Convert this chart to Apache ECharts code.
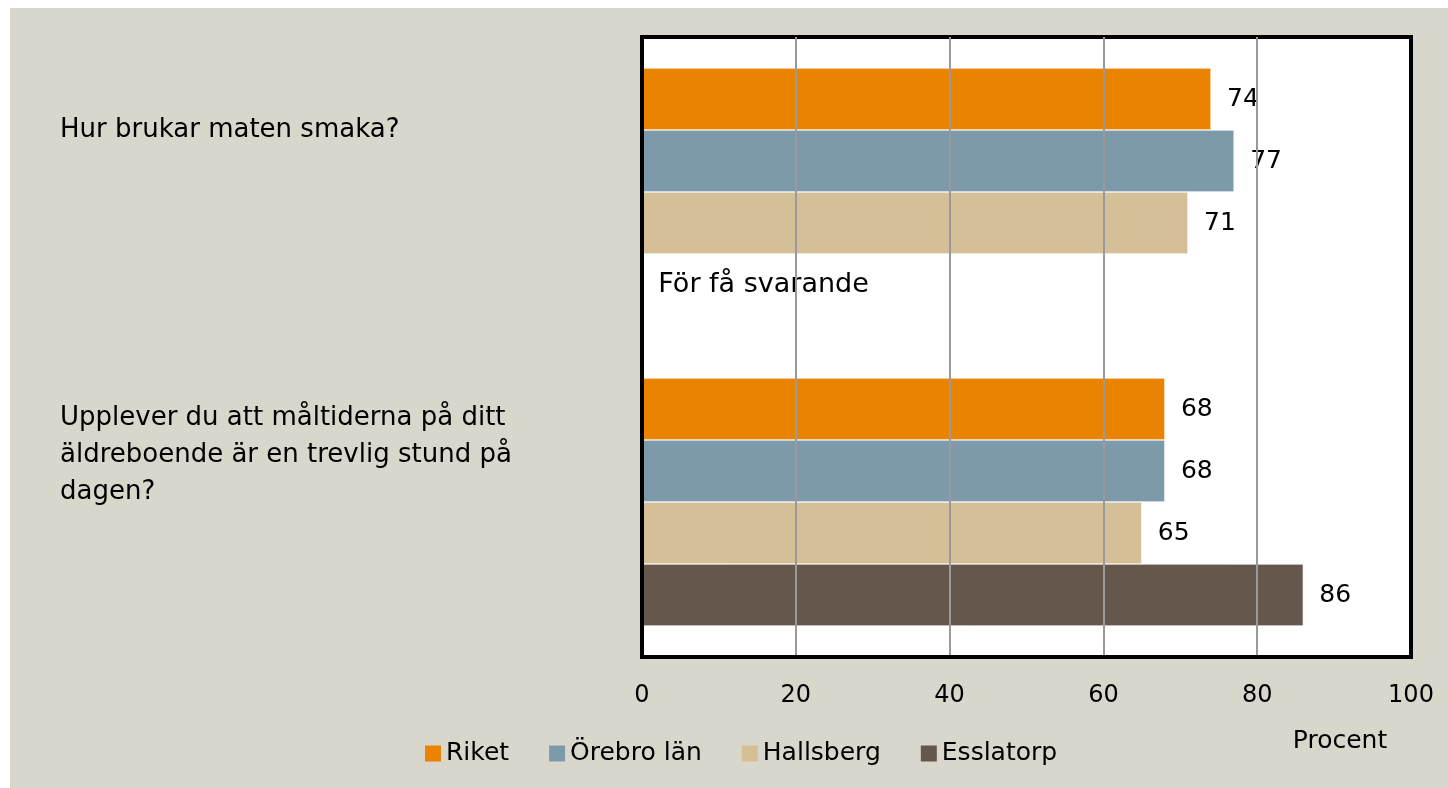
<!DOCTYPE html>
<html>
<head>
<meta charset="utf-8">
<script src="https://cdn.jsdelivr.net/npm/echarts@6/dist/echarts.min.js"></script>
<style>
  html, body { margin: 0; padding: 0; background: #ffffff; }
  #chart { position: absolute; left: 10px; top: 8px; width: 1438px; height: 780px; background: #D9D7CB; }
</style>
</head>
<body>
<div id="chart"></div>
<script>
  // frågor (kategorier)
  var questions = [
    'Hur brukar maten smaka?',
    'Upplever du att måltiderna på ditt\näldreboende är en trevlig stund på\ndagen?'
  ]
  var seriesNames = ['Riket', 'Örebro län', 'Hallsberg', 'Esslatorp']
  var riket = [74, 68]
  var orebro = [77, 68]
  var hallsberg = [71, 65]
  var esslatorp = [0, 86]
  // text som visas i stället för värdet när det är för få svar
  var esslatorpNotes = ['För få svarande', null]
  var xTicks = [0, 20, 40, 60, 80, 100]

  var colors = ['#E98300', '#7D9AAB', '#D4BF96', '#65574B']
  var font = 'DejaVu Sans'

  var chart = echarts.init(document.getElementById('chart'))

  function barSeries(name, data, color, notes) {
    return {
      name: name,
      type: 'bar',
      data: data,
      barGap: 0,
      barCategoryGap: '20%',
      itemStyle: { color: color, borderColor: '#ffffff', borderWidth: 0.6 },
      label: {
        show: true,
        position: 'right',
        distance: 16,
        color: '#000',
        fontFamily: font,
        fontSize: 25,
        formatter: function (p) {
          if (notes && notes[p.dataIndex]) return '{n|' + notes[p.dataIndex] + '}'
          return p.value
        },
        rich: { n: { fontFamily: font, fontSize: 27, color: '#000' } }
      }
    }
  }

  var option = {
    animation: false,
    textStyle: { fontFamily: font },
    color: colors,
    grid: {
      left: 632, top: 29, right: 37, bottom: 131,
      outerBoundsMode: 'none',
      containLabel: false,
      show: true,
      backgroundColor: '#ffffff',
      borderColor: '#000000',
      borderWidth: 4
    },
    legend: {
      data: seriesNames,
      left: 415,
      top: 733,
      padding: 0,
      itemWidth: 16,
      itemHeight: 16,
      itemGap: 40,
      icon: 'rect',
      itemStyle: { borderWidth: 0 },
      textStyle: { fontFamily: font, fontSize: 25, color: '#000' }
    },
    xAxis: {
      type: 'value',
      min: xTicks[0],
      max: xTicks[xTicks.length - 1],
      interval: xTicks[1] - xTicks[0],
      z: 3,
      name: 'Procent',
      nameLocation: 'end',
      nameGap: -71,
      nameMoveOverlap: false,
      nameTextStyle: { fontFamily: font, fontSize: 25, color: '#000', align: 'center', verticalAlign: 'top', lineHeight: 168 },
      axisLine: { show: true, lineStyle: { color: '#000', width: 4 } },
      axisTick: { show: false },
      axisLabel: { margin: 27, fontSize: 24, color: '#000', fontFamily: font },
      splitLine: { show: true, showMinLine: false, showMaxLine: false, lineStyle: { color: '#9a9a9a', width: 2 } }
    },
    yAxis: {
      type: 'category',
      data: questions,
      inverse: true,
      z: 3,
      axisLine: { show: true, lineStyle: { color: '#000', width: 4 } },
      axisTick: { show: false },
      axisLabel: {
        align: 'left',
        margin: 582,
        color: '#000',
        fontFamily: font,
        // etiketterna sitter ovanför kategorins mitt, en tom rad under flyttar upp texten
        formatter: function (v, i) {
          return '{q|' + v + '}\n{' + (i === 0 ? 'ga' : 'gb') + '| }'
        },
        rich: {
          q: { fontFamily: font, fontSize: 26, lineHeight: 37, color: '#000' },
          ga: { fontSize: 4, lineHeight: 124 },
          gb: { fontSize: 4, lineHeight: 94 }
        }
      }
    },
    series: [
      barSeries(seriesNames[0], riket, colors[0]),
      barSeries(seriesNames[1], orebro, colors[1]),
      barSeries(seriesNames[2], hallsberg, colors[2]),
      barSeries(seriesNames[3], esslatorp, colors[3], esslatorpNotes)
    ]
  }

  chart.setOption(option)
</script>
</body>
</html>
